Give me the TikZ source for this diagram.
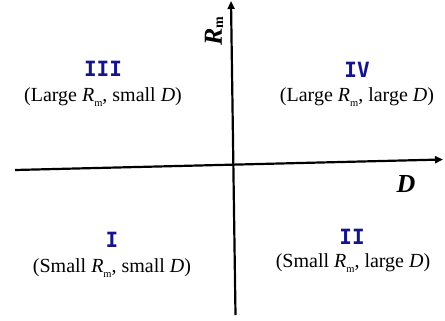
\documentclass[tikz,border=0pt]{standalone}
\usepackage{fontspec}
\setmainfont{Liberation Serif}
\newfontfamily\monob{DejaVu Sans Mono}
\usetikzlibrary{arrows.meta}
\definecolor{numcol}{RGB}{20,20,140}
\tikzset{
  axis/.style={line width=2.2pt, -{Triangle[length=8pt,width=7pt]}},
  numlab/.style={font=\monob\bfseries\fontsize{21}{24}\selectfont, text=numcol, inner sep=0pt},
  desc/.style={font=\fontsize{20}{24}\selectfont, inner sep=0pt},
  axlab/.style={font=\fontsize{26}{30}\selectfont\bfseries\itshape, inner sep=0pt}
}
\newcommand{\Rm}{\textit{R}\raisebox{-0.5ex}{\fontsize{10.5}{12}\selectfont m}}
\begin{document}
\begin{tikzpicture}[x=1pt,y=-1pt]
\useasboundingbox (0,0) rectangle (445,321);
\coordinate (xl) at (15,170);
\coordinate (xr) at (443,159.5);
\coordinate (yb) at (235.5,315);
\coordinate (yt) at (231,1);
\draw[axis] (xl) -- (xr);
\draw[axis] (yb) -- (yt);
\node[axlab] (dlab) at (406,184) {D};
\node[axlab, rotate=90] (rlab) at (214,31) {R\raisebox{-0.1ex}{\upshape\fontsize{14}{15}\selectfont m}};
\node[numlab] (n3) at (103,69) {III};
\node[desc] (d3) at (103,97) {(Large \Rm, small \textit{D})};
\node[numlab] (n4) at (357,70) {IV};
\node[desc] (d4) at (357,97) {(Large \Rm, large \textit{D})};
\node[numlab] (n1) at (112,240) {I};
\node[desc] (d1) at (112,268) {(Small \Rm, small \textit{D})};
\node[numlab] (n2) at (352,237) {II};
\node[desc] (d2) at (353,263) {(Small \Rm, large \textit{D})};
\end{tikzpicture}
\end{document}
